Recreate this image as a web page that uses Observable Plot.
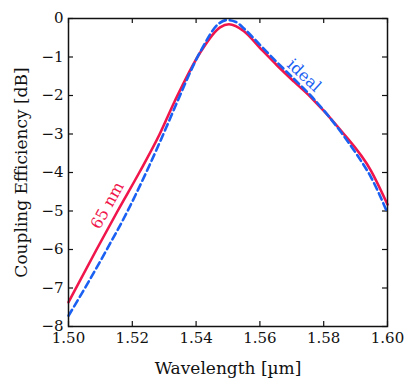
<!DOCTYPE html>
<html>
<head>
<meta charset="utf-8">
<script src="https://cdn.jsdelivr.net/npm/d3@7"></script>
<script src="https://cdn.jsdelivr.net/npm/@observablehq/plot@0.6"></script>
<style>
  html, body { margin: 0; padding: 0; background: #fff; }
</style>
</head>
<body>
<div id="chart"></div>
<script>
// Series: 65 nm (solid red)
const nm65Wavelength = [1.500, 1.5088, 1.5154, 1.5222, 1.5286, 1.5333, 1.5414, 1.5475, 1.5503, 1.5550, 1.5602, 1.5654, 1.5707, 1.5759, 1.5854, 1.5948, 1.600];
const nm65Efficiency = [-7.37, -6.00, -5.00, -4.00, -3.00, -2.15, -0.87, -0.23, -0.15, -0.33, -0.78, -1.22, -1.64, -2.04, -2.91, -3.95, -4.83];

// Series: ideal (dashed blue)
const idealWavelength = [1.500, 1.5056, 1.5118, 1.5181, 1.5244, 1.5307, 1.5338, 1.5414, 1.5470, 1.5497, 1.5525, 1.5550, 1.5602, 1.5654, 1.5707, 1.5759, 1.5854, 1.5906, 1.5948, 1.600];
const idealEfficiency = [-7.72, -6.94, -6.03, -5.07, -3.99, -2.82, -2.22, -0.85, -0.14, -0.04, -0.09, -0.26, -0.70, -1.14, -1.57, -2.00, -2.95, -3.56, -4.12, -5.05];

// Ticks
const xTicks = [1.50, 1.52, 1.54, 1.56, 1.58, 1.60];
const yTicks = [0, -1, -2, -3, -4, -5, -6, -7, -8];

// Series labels
const labelText = ["65 nm", "ideal"];
const labelX = [1.5122, 1.5738];
const labelY = [-4.86, -1.48];
const labelRotate = [-61, 43];

const red = "#f0164c";
const blue = "#1a60f2";

const nm65 = nm65Wavelength.map((x, i) => ({x, y: nm65Efficiency[i]}));
const ideal = idealWavelength.map((x, i) => ({x, y: idealEfficiency[i]}));
const labels = labelText.map((t, i) => ({t, x: labelX[i], y: labelY[i], r: labelRotate[i], c: i === 0 ? red : blue}));

const W = 415, H = 388;
const mL = 68, mR = 28, mT = 18, mB = 62;
const pw = W - mL - mR, ph = H - mT - mB;
const tick = 5;
const FONT = "DejaVu Serif";

const chart = Plot.plot({
  width: W,
  height: H,
  marginLeft: mL,
  marginRight: mR,
  marginTop: mT,
  marginBottom: mB,
  style: {fontFamily: FONT, fontSize: "15px", color: "#111", background: "#fff"},
  x: {domain: [1.50, 1.60]},
  y: {domain: [-8, 0]},
  marks: [
    // inward ticks on all four sides
    Plot.gridX(xTicks, {stroke: "#111", strokeOpacity: 1, strokeWidth: 1.2, insetTop: ph - tick}),
    Plot.gridX(xTicks, {stroke: "#111", strokeOpacity: 1, strokeWidth: 1.2, insetBottom: ph - tick}),
    Plot.gridY(yTicks, {stroke: "#111", strokeOpacity: 1, strokeWidth: 1.2, insetRight: pw - tick}),
    Plot.gridY(yTicks, {stroke: "#111", strokeOpacity: 1, strokeWidth: 1.2, insetLeft: pw - tick}),
    Plot.axisX(xTicks, {anchor: "bottom", tickSize: 0, tickPadding: 6, tickFormat: d3.format(".2f"),
      label: "Wavelength [µm]", labelAnchor: "center", labelOffset: 47, labelArrow: "none", fontSize: 15}),
    Plot.axisY(yTicks, {anchor: "left", tickSize: 0, tickPadding: 5, tickFormat: d => d === 0 ? "0" : "−" + Math.abs(d),
      label: "Coupling Efficiency [dB]", labelAnchor: "center", labelOffset: 54, labelArrow: "none", fontSize: 15}),
    Plot.line(nm65, {x: "x", y: "y", stroke: red, strokeWidth: 2.6, curve: "monotone-x"}),
    Plot.line(ideal, {x: "x", y: "y", stroke: blue, strokeWidth: 2.6, strokeDasharray: "7,4", curve: "monotone-x"}),
    Plot.text(labels, {x: "x", y: "y", text: "t", rotate: "r", fill: "c", fontSize: 16, textAnchor: "middle"}),
    Plot.frame({stroke: "#111", strokeWidth: 1.5})
  ]
});

chart.querySelectorAll("text").forEach(t => {
  t.setAttribute("font-family", FONT);
  t.style.fontFamily = FONT;
  if (t.textContent === "Wavelength [µm]" || t.textContent === "Coupling Efficiency [dB]") t.setAttribute("font-size", "17");
});
chart.querySelectorAll("g").forEach(g => { g.style.fontFamily = FONT; });
document.getElementById("chart").appendChild(chart);
</script>
</body>
</html>
